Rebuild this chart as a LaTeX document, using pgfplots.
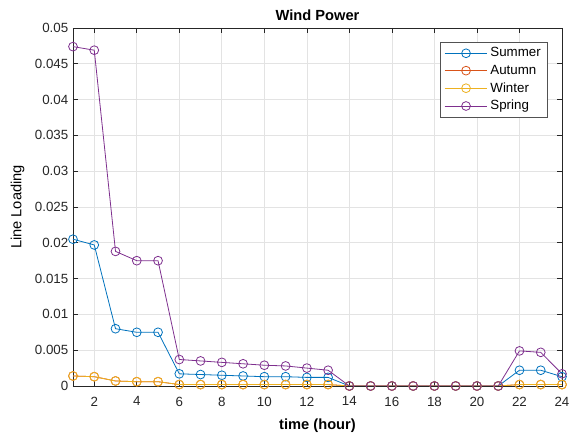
\documentclass[border=0pt]{standalone}
\usepackage{fontspec}
\setmainfont{Liberation Sans}
\usepackage{pgfplots}
\pgfplotsset{compat=1.18}
\definecolor{cSum}{rgb}{0,0.447,0.741}
\definecolor{cAut}{rgb}{0.85,0.325,0.098}
\definecolor{cWin}{rgb}{0.929,0.694,0.125}
\definecolor{cSpr}{rgb}{0.494,0.184,0.556}
\definecolor{axc}{rgb}{0.15,0.15,0.15}
\begin{document}
\begin{tikzpicture}[x=1pt,y=1pt]
\begin{axis}[
  at={(0,0)}, anchor=south west,
  scale only axis, width=366.75pt, height=268.5pt,
  xmin=1, xmax=24, ymin=0, ymax=0.05,
  xtick={2,4,...,24},
  ytick={0,0.005,...,0.0501},
  yticklabels={0,0.005,0.01,0.015,0.02,0.025,0.03,0.035,0.04,0.045,0.05},
  scaled y ticks=false,
  /pgf/number format/assume math mode=true,
  tick label style={font=\fontsize{10}{12}\selectfont, text=axc},
  xticklabel style={yshift=-4.5pt},
  tick align=inside, tick pos=both,
  major tick length=4pt,
  every tick/.style={axc, line width=0.5pt},
  axis line style={axc, line width=0.6pt},
  grid=major, major grid style={gray!22, line width=0.5pt},
  title={\textbf{Wind Power}},
  title style={font=\fontsize{11}{13}\selectfont, yshift=-4pt},
  xlabel={\textbf{time (hour)}},
  xlabel style={font=\fontsize{11}{13}\selectfont, yshift=-3pt},
  ylabel={Line Loading},
  ylabel style={font=\fontsize{11}{13}\selectfont, yshift=1pt},
  legend style={at={(0.971,0.961)}, anchor=north east, draw=axc!80, line width=0.5pt,
    font=\fontsize{10}{12}\selectfont, inner xsep=3pt, inner ysep=2pt, row sep=0.6pt, legend cell align=left},
  legend image code/.code={\draw[#1] (0pt,0pt) -- (32pt,0pt); \draw[#1, mark repeat=1] plot coordinates {(16pt,0pt)};},
  every axis plot/.append style={line width=0.6pt, mark=o, mark size=3.3pt, mark options={solid, line width=0.6pt}},
]
\addplot[cSum] coordinates {(1,0.0205)(2,0.0197)(3,0.0080)(4,0.0075)(5,0.0075)(6,0.0017)(7,0.0016)(8,0.0015)(9,0.0014)(10,0.0013)(11,0.0013)(12,0.0012)(13,0.0012)(14,0)(15,0)(16,0)(17,0)(18,0)(19,0)(20,0)(21,0)(22,0.0022)(23,0.0022)(24,0.0013)};
\addlegendentry{Summer}
\addplot[cAut] coordinates {(1,0.0014)(2,0.0013)(3,0.0007)(4,0.0006)(5,0.0006)(6,0.0002)(7,0.0002)(8,0.0002)(9,0.0002)(10,0.0002)(11,0.0002)(12,0.0002)(13,0.0002)(14,0)(15,0)(16,0)(17,0)(18,0)(19,0)(20,0)(21,0)(22,0.0002)(23,0.0002)(24,0.0002)};
\addlegendentry{Autumn}
\addplot[cWin] coordinates {(1,0.0014)(2,0.0013)(3,0.0007)(4,0.0006)(5,0.0006)(6,0.0002)(7,0.0002)(8,0.0002)(9,0.0002)(10,0.0002)(11,0.0002)(12,0.0002)(13,0.0002)(14,0)(15,0)(16,0)(17,0)(18,0)(19,0)(20,0)(21,0)(22,0.0002)(23,0.0002)(24,0.0002)};
\addlegendentry{Winter}
\addplot[cSpr] coordinates {(1,0.0474)(2,0.0469)(3,0.0188)(4,0.0175)(5,0.0175)(6,0.0037)(7,0.0035)(8,0.0033)(9,0.0031)(10,0.0029)(11,0.0028)(12,0.0025)(13,0.0022)(14,0)(15,0)(16,0)(17,0)(18,0)(19,0)(20,0)(21,0)(22,0.0049)(23,0.0047)(24,0.0017)};
\addlegendentry{Spring}
\end{axis}
\pgfresetboundingbox
\path (-54.75pt,-36pt) rectangle (372pt,289.5pt);
\end{tikzpicture}
\end{document}
